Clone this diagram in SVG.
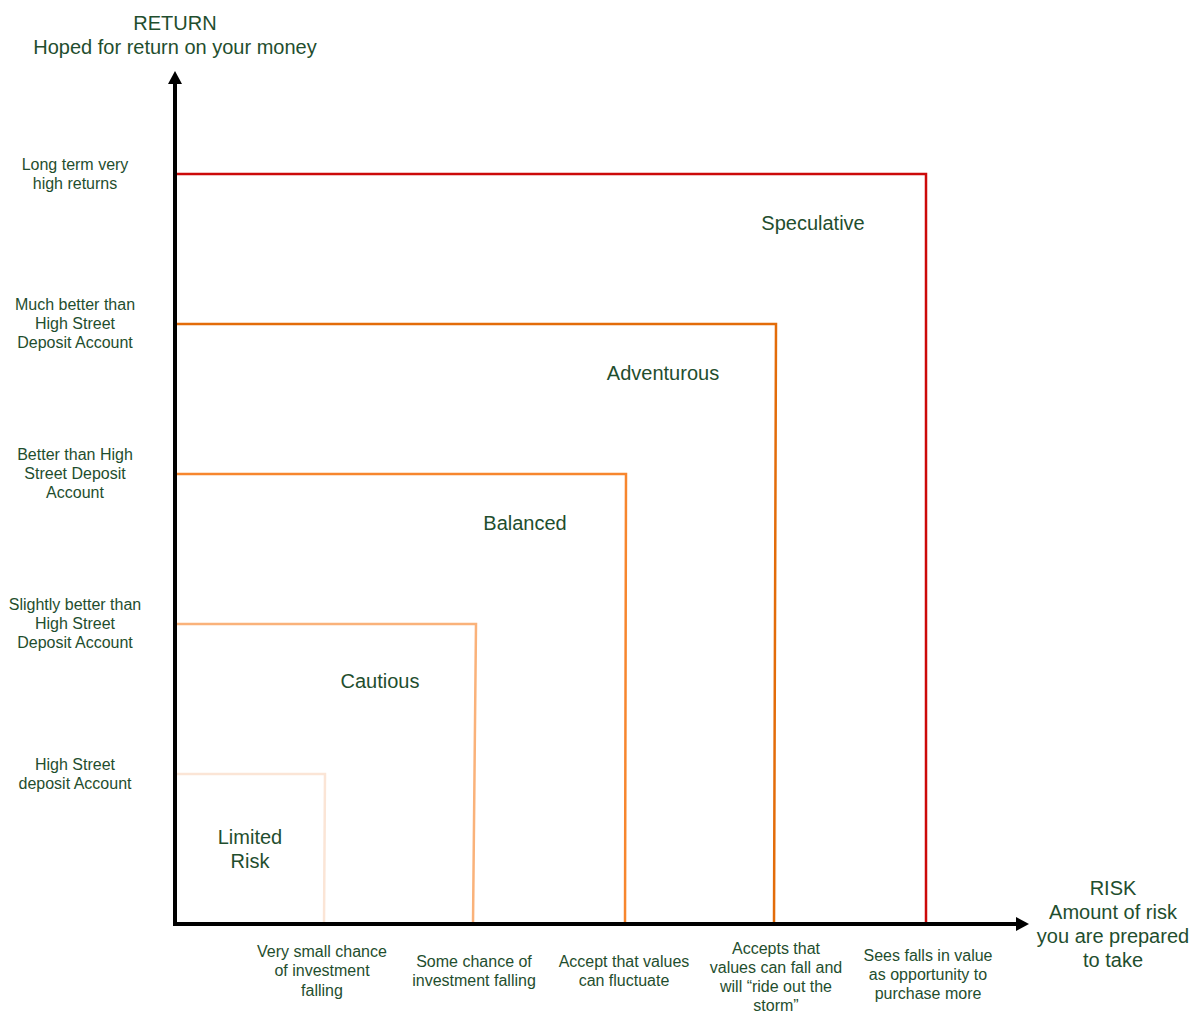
<svg xmlns="http://www.w3.org/2000/svg" width="1193" height="1012" viewBox="0 0 1193 1012">
<style>
text{font-family:"Liberation Sans",Arial,sans-serif;fill:#1f4e2e;text-anchor:middle}
.s{font-size:16px}
.l{font-size:20px}
.box{fill:none;stroke-width:2.5;stroke-linejoin:miter}
.axis{stroke:#000;stroke-width:4;fill:none}
</style>
<rect width="1193" height="1012" fill="#fff"/>
<g id="connectors">
<g id="boxes">
<polyline class="box" stroke="#CC0A0A" points="175,174 926,174 926,924"/>
<polyline class="box" stroke="#E36C09" points="175,324 776,324 774,924"/>
<polyline class="box" stroke="#F7862E" points="175,474 626,474 625,924"/>
<polyline class="box" stroke="#FAB27A" points="175,624 476,624 473,924"/>
<polyline class="box" stroke="#FBE5D6" points="175,774 325,774 324,924"/>
</g>
<g id="axes">
<path class="axis" d="M175,924 V82"/>
<path class="axis" d="M173,924 H1018"/>
<polygon points="175,71 182,84 168,84" fill="#000"/>
<polygon points="1029,924 1016,917 1016,931" fill="#000"/>
</g>
</g>
<g id="y-title"><text class="l" x="175" y="30">RETURN</text><text class="l" x="175" y="54">Hoped for return on your money</text></g>
<g id="x-title"><text class="l" x="1113" y="895">RISK</text><text class="l" x="1113" y="919">Amount of risk</text><text class="l" x="1113" y="943">you are prepared</text><text class="l" x="1113" y="967">to take</text></g>
<g id="y-labels">
<g id="y1"><text class="s" x="75" y="169.5">Long term very</text><text class="s" x="75" y="188.5">high returns</text></g>
<g id="y2"><text class="s" x="75" y="309.5">Much better than</text><text class="s" x="75" y="328.8">High Street</text><text class="s" x="75" y="348">Deposit Account</text></g>
<g id="y3"><text class="s" x="75" y="460">Better than High</text><text class="s" x="75" y="479">Street Deposit</text><text class="s" x="75" y="498">Account</text></g>
<g id="y4"><text class="s" x="75" y="610">Slightly better than</text><text class="s" x="75" y="629">High Street</text><text class="s" x="75" y="648">Deposit Account</text></g>
<g id="y5"><text class="s" x="75" y="770">High Street</text><text class="s" x="75" y="789">deposit Account</text></g>
</g>
<g id="regions">
<g id="speculative"><text class="l" x="813" y="230">Speculative</text></g>
<g id="adventurous"><text class="l" x="663" y="380">Adventurous</text></g>
<g id="balanced"><text class="l" x="525" y="530">Balanced</text></g>
<g id="cautious"><text class="l" x="380" y="688">Cautious</text></g>
<g id="limited"><text class="l" x="250" y="844">Limited</text><text class="l" x="250" y="868">Risk</text></g>
</g>
<g id="x-labels">
<g id="x1"><text class="s" x="322" y="957">Very small chance</text><text class="s" x="322" y="976">of investment</text><text class="s" x="322" y="996">falling</text></g>
<g id="x2"><text class="s" x="474" y="967">Some chance of</text><text class="s" x="474" y="986">investment falling</text></g>
<g id="x3"><text class="s" x="624" y="967">Accept that values</text><text class="s" x="624" y="986">can fluctuate</text></g>
<g id="x4"><text class="s" x="776" y="954">Accepts that</text><text class="s" x="776" y="973">values can fall and</text><text class="s" x="776" y="992">will “ride out the</text><text class="s" x="776" y="1011">storm”</text></g>
<g id="x5"><text class="s" x="928" y="961">Sees falls in value</text><text class="s" x="928" y="980">as opportunity to</text><text class="s" x="928" y="999">purchase more</text></g>
</g>
</svg>
